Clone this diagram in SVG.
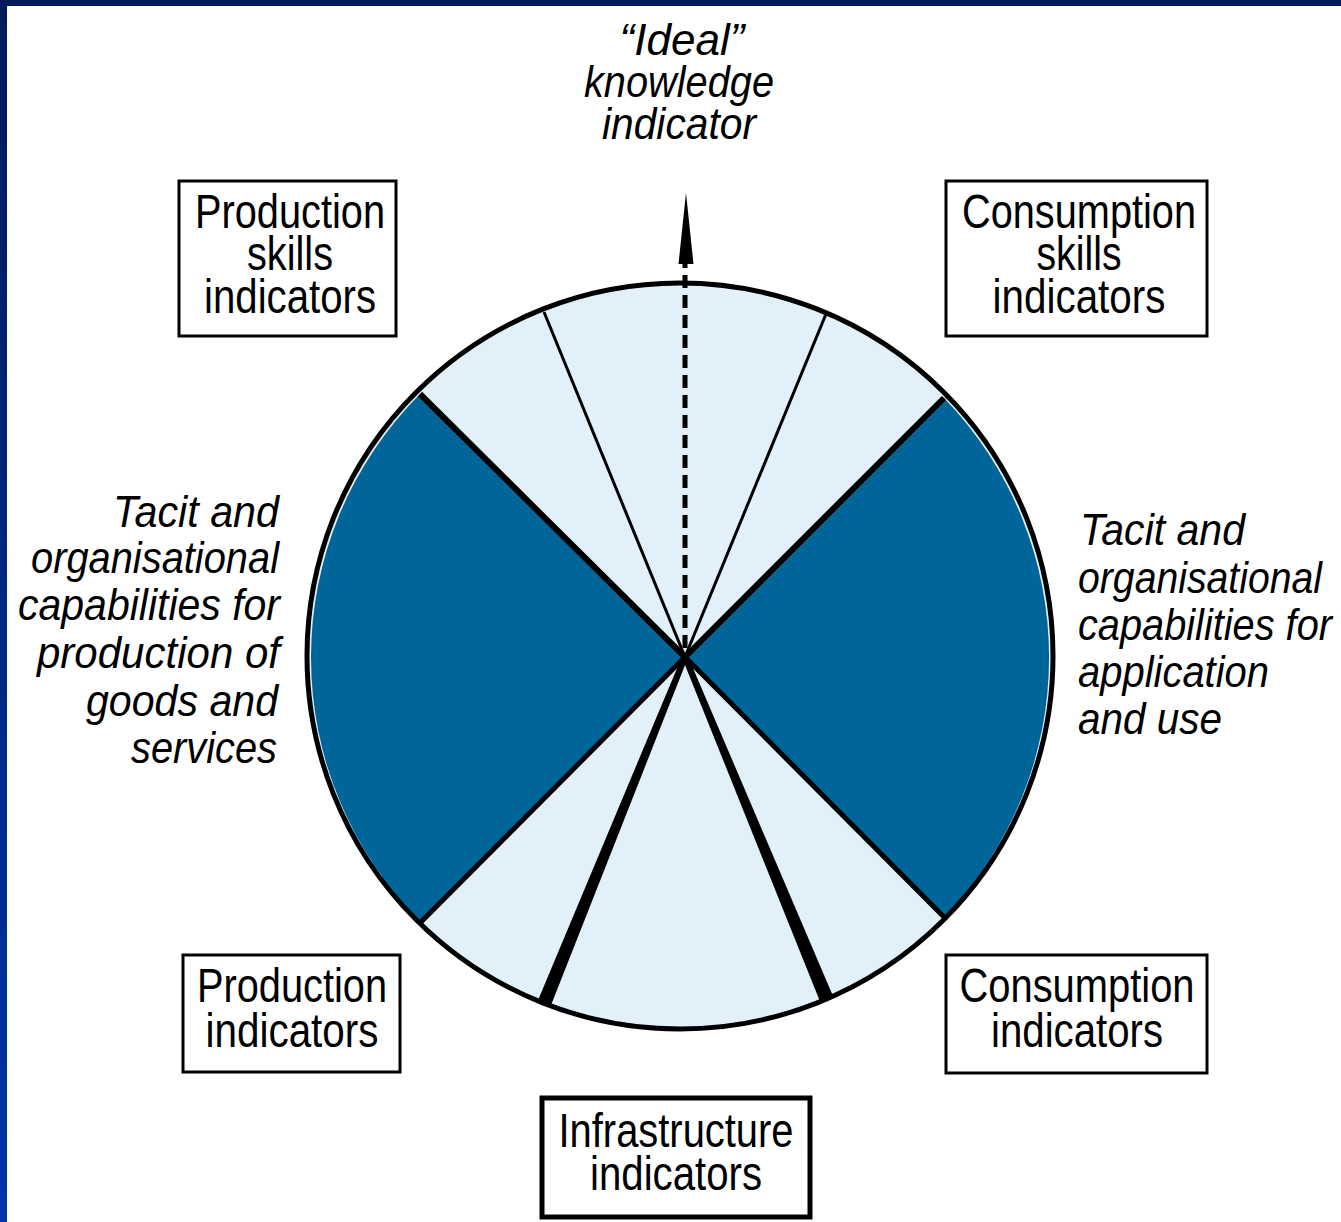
<svg xmlns="http://www.w3.org/2000/svg" width="1341" height="1222" viewBox="0 0 1341 1222">
<style>
.box{fill:#ffffff;stroke:#000000;stroke-width:3}
.boxb{fill:#ffffff;stroke:#000000;stroke-width:5}
.bt{font-family:"Liberation Sans Narrow","Liberation Sans",Arial,sans-serif;font-size:48px;fill:#000000;text-anchor:middle}
.it{font-family:"Liberation Sans Narrow","Liberation Sans",Arial,sans-serif;font-size:45px;font-style:italic;fill:#000000}
.dark{fill:#00669a}
.spoke{stroke:#000000;stroke-linecap:butt}
</style>
<defs>
<linearGradient id="lb" x1="0" y1="0" x2="0" y2="1">
<stop offset="0" stop-color="#001a5c"/>
<stop offset="1" stop-color="#0035a8"/>
</linearGradient>
</defs>
<rect x="0" y="0" width="1341" height="1222" fill="#ffffff"/>
<rect x="0" y="0" width="1341" height="6" fill="#001a5c"/>
<rect x="0" y="0" width="7" height="1222" fill="url(#lb)"/>

<g id="wheel">
<circle cx="680" cy="656" r="373" fill="#e2f0fa"/>
<path class="dark" d="M685,657 L420,394 A373,373 0 0 0 421,922 Z"/>
<path class="dark" d="M685,657 L944,398 A373,373 0 0 1 944,917 Z"/>
</g>

<g id="connectors">
<line class="spoke" x1="685" y1="657" x2="420" y2="394" stroke-width="6"/>
<line class="spoke" x1="685" y1="657" x2="544" y2="312" stroke-width="3"/>
<line class="spoke" x1="685" y1="657" x2="826" y2="314" stroke-width="3"/>
<line class="spoke" x1="685" y1="657" x2="944" y2="398" stroke-width="6"/>
<line class="spoke" x1="685" y1="657" x2="944" y2="917" stroke-width="5"/>
<line class="spoke" x1="685" y1="657" x2="421" y2="922" stroke-width="5"/>
<polygon points="687.8,658.1 682.2,655.9 537.5,1001.4 550.5,1006.6" fill="#000000"/>
<polygon points="687.8,655.9 682.2,658.1 820.5,1002.7 833.5,997.3" fill="#000000"/>
<circle cx="680" cy="656" r="373" fill="none" stroke="#000000" stroke-width="5"/>
<line x1="685" y1="648" x2="685" y2="262" stroke="#000000" stroke-width="5" stroke-dasharray="13 7"/>
<polygon points="686,193 678.5,264 693.5,264" fill="#000000"/>
</g>

<g id="ideal">
<text class="it" text-anchor="middle"><tspan x="682" y="55" textLength="125" lengthAdjust="spacingAndGlyphs">“Ideal”</tspan></text>
<text class="it" text-anchor="middle"><tspan x="679" y="97" textLength="190" lengthAdjust="spacingAndGlyphs">knowledge</tspan></text>
<text class="it" text-anchor="middle"><tspan x="679" y="139" textLength="154" lengthAdjust="spacingAndGlyphs">indicator</tspan></text>
</g>

<g id="production-skills">
<rect class="box" x="179" y="181" width="217" height="155"/>
<text class="bt" x="290" y="228" textLength="190" lengthAdjust="spacingAndGlyphs">Production</text>
<text class="bt" x="290" y="270" textLength="86" lengthAdjust="spacingAndGlyphs">skills</text>
<text class="bt" x="290" y="313" textLength="172" lengthAdjust="spacingAndGlyphs">indicators</text>
</g>

<g id="consumption-skills">
<rect class="box" x="946" y="181" width="261" height="155"/>
<text class="bt" x="1079" y="228" textLength="234" lengthAdjust="spacingAndGlyphs">Consumption</text>
<text class="bt" x="1079" y="270" textLength="85" lengthAdjust="spacingAndGlyphs">skills</text>
<text class="bt" x="1079" y="313" textLength="173" lengthAdjust="spacingAndGlyphs">indicators</text>
</g>

<g id="production">
<rect class="box" x="183" y="955" width="217" height="117"/>
<text class="bt" x="292" y="1002" textLength="190" lengthAdjust="spacingAndGlyphs">Production</text>
<text class="bt" x="292" y="1047" textLength="173" lengthAdjust="spacingAndGlyphs">indicators</text>
</g>

<g id="consumption">
<rect class="box" x="946" y="955" width="261" height="118"/>
<text class="bt" x="1077" y="1002" textLength="235" lengthAdjust="spacingAndGlyphs">Consumption</text>
<text class="bt" x="1077" y="1047" textLength="172" lengthAdjust="spacingAndGlyphs">indicators</text>
</g>

<g id="infrastructure">
<rect class="boxb" x="542" y="1098" width="268" height="119"/>
<text class="bt" x="676" y="1147" textLength="235" lengthAdjust="spacingAndGlyphs">Infrastructure</text>
<text class="bt" x="676" y="1190" textLength="172" lengthAdjust="spacingAndGlyphs">indicators</text>
</g>

<g id="tacit-production">
<text class="it" text-anchor="end"><tspan x="279" y="527" textLength="166" lengthAdjust="spacingAndGlyphs">Tacit and</tspan></text>
<text class="it" text-anchor="end"><tspan x="279" y="573" textLength="248" lengthAdjust="spacingAndGlyphs">organisational</tspan></text>
<text class="it" text-anchor="end"><tspan x="280" y="620" textLength="262" lengthAdjust="spacingAndGlyphs">capabilities for</tspan></text>
<text class="it" text-anchor="end"><tspan x="280" y="668" textLength="243" lengthAdjust="spacingAndGlyphs">production of</tspan></text>
<text class="it" text-anchor="end"><tspan x="278" y="716" textLength="192" lengthAdjust="spacingAndGlyphs">goods and</tspan></text>
<text class="it" text-anchor="end"><tspan x="277" y="763" textLength="146" lengthAdjust="spacingAndGlyphs">services</tspan></text>
</g>

<g id="tacit-application">
<text class="it"><tspan x="1080" y="545" textLength="165" lengthAdjust="spacingAndGlyphs">Tacit and</tspan></text>
<text class="it"><tspan x="1078" y="593" textLength="244" lengthAdjust="spacingAndGlyphs">organisational</tspan></text>
<text class="it"><tspan x="1078" y="640" textLength="254" lengthAdjust="spacingAndGlyphs">capabilities for</tspan></text>
<text class="it"><tspan x="1078" y="687" textLength="191" lengthAdjust="spacingAndGlyphs">application</tspan></text>
<text class="it"><tspan x="1078" y="734" textLength="144" lengthAdjust="spacingAndGlyphs">and use</tspan></text>
</g>
</svg>
